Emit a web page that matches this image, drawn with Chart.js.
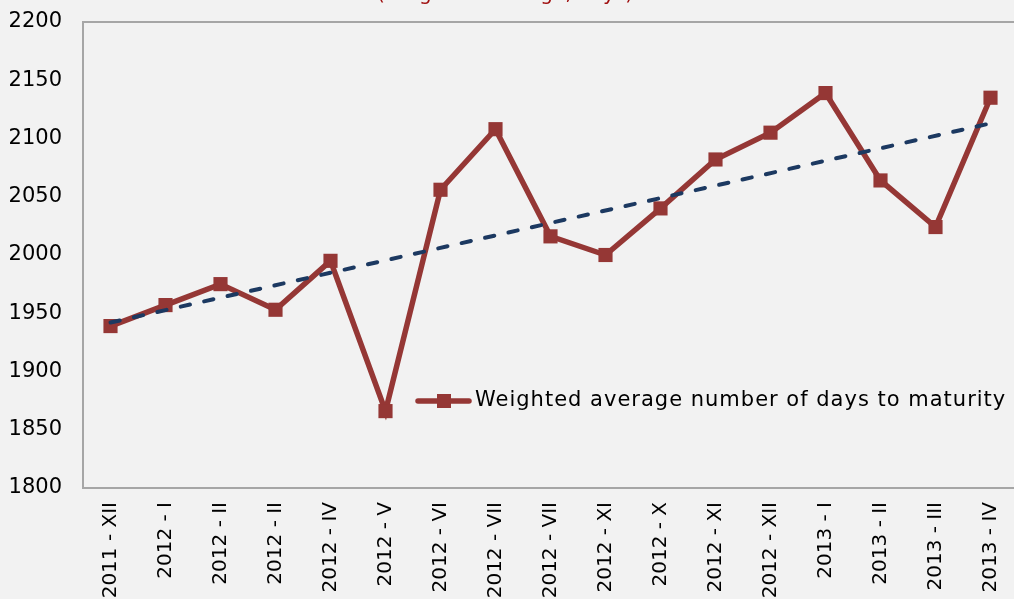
<!DOCTYPE html>
<html>
<head>
<meta charset="utf-8">
<title>Weighted average number of days to maturity</title>
<script src="https://cdn.jsdelivr.net/npm/chart.js@4.4.1/dist/chart.umd.min.js"></script>
<style>
  html, body { margin: 0; padding: 0; background: #f2f2f2; overflow: hidden; }
  #maturityChart { display: block; }
</style>
</head>
<body>
<canvas id="maturityChart" width="1030" height="599"></canvas>
<script>
// monthly periods (labels kept as printed)
const periods = [
    "2011 - XII", "2012 - I", "2012 - II", "2012 - II", "2012 - IV", "2012 - V",
    "2012 - VI", "2012 - VII", "2012 - VII", "2012 - XI", "2012 - X", "2012 - XI",
    "2012 - XII", "2013 - I", "2013 - II", "2013 - III", "2013 - IV"
];

// weighted average days to maturity
const daysToMaturity = [
    1939, 1957, 1975, 1953, 1995, 1866,
    2056, 2108, 2016, 2000, 2040, 2082,
    2105, 2139, 2064, 2024, 2135
];

// linear trend, first and last period
const trendEnds = [1942, 2113];

const yMin = 1800;
const yMax = 2200;
const yStep = 50;

const seriesLabel = "Weighted average number of days to maturity";
const subTitle = "(weighted average, days)";

const red = '#953735';
const navy = '#1c3961';
const fontFamily = "'DejaVu Sans', sans-serif";

const trendData = periods.map((p, i) => {
    if (i === 0) return trendEnds[0];
    if (i === periods.length - 1) return trendEnds[1];
    return null;
});

// grey box round the plot area
const framePlugin = {
    id: 'frame',
    beforeDatasetsDraw(chart) {
        const { ctx, chartArea: a } = chart;
        ctx.save();
        ctx.strokeStyle = '#a6a6a6';
        ctx.lineWidth = 2;
        ctx.strokeRect(a.left, a.top, a.right - a.left, a.bottom - a.top);
        ctx.restore();
    }
};

// legend inside the plot, plus the red subtitle at the top
const extrasPlugin = {
    id: 'extras',
    afterDraw(chart) {
        const ctx = chart.ctx;
        ctx.save();

        // subtitle (sits mostly above the canvas edge)
        ctx.font = `20px ${fontFamily}`;
        ctx.fillStyle = '#a01010';
        ctx.textAlign = 'center';
        ctx.textBaseline = 'alphabetic';
        ctx.fillText(subTitle, 505, 0);

        // legend entry
        const ly = 401;
        ctx.strokeStyle = red;
        ctx.lineWidth = 5.5;
        ctx.lineCap = 'round';
        ctx.beginPath();
        ctx.moveTo(418, ly);
        ctx.lineTo(469, ly);
        ctx.stroke();
        ctx.fillStyle = red;
        ctx.fillRect(437, ly - 7, 14, 14);

        ctx.font = `21px ${fontFamily}`;
        ctx.letterSpacing = '1px';
        ctx.fillStyle = '#000';
        ctx.textAlign = 'left';
        ctx.textBaseline = 'middle';
        ctx.fillText(seriesLabel, 475, ly);
        ctx.restore();
    }
};

const ctx = document.getElementById('maturityChart').getContext('2d');

new Chart(ctx, {
    type: 'line',
    data: {
        labels: periods,
        datasets: [
            {
                label: 'Linear trend',
                data: trendData,
                spanGaps: true,
                borderColor: navy,
                borderWidth: 4,
                borderDash: [9.5, 14.5],
                borderCapStyle: 'round',
                pointRadius: 0,
                pointHoverRadius: 0,
                order: 0
            },
            {
                label: seriesLabel,
                data: daysToMaturity,
                borderColor: red,
                backgroundColor: red,
                borderWidth: 5.5,
                pointStyle: 'rect',
                pointRadius: 10,
                pointBorderWidth: 0,
                pointBackgroundColor: red,
                tension: 0,
                order: 1
            }
        ]
    },
    options: {
        responsive: false,
        animation: false,
        layout: {
            padding: { top: 22, right: 12, left: 0, bottom: 0 }
        },
        plugins: {
            legend: { display: false },
            tooltip: { enabled: false }
        },
        scales: {
            x: {
                offset: true,
                grid: { display: false, drawTicks: false, offset: true },
                border: { display: false },
                ticks: {
                    autoSkip: false,
                    minRotation: 90,
                    maxRotation: 90,
                    padding: 14,
                    color: '#000',
                    font: { family: fontFamily, size: 20 }
                },
                afterFit(scale) { scale.height = 111; }
            },
            y: {
                min: yMin,
                max: yMax,
                grid: { display: false, drawTicks: false },
                border: { display: false },
                ticks: {
                    stepSize: yStep,
                    padding: 21,
                    color: '#000',
                    font: { family: fontFamily, size: 21 },
                    callback: (v) => String(v)
                },
                afterFit(scale) {
                    scale.width = 83;
                    // the outer tick labels may overhang; layout padding handles the gap
                    scale.paddingTop = 0;
                    scale.paddingBottom = 0;
                }
            }
        }
    },
    plugins: [framePlugin, extrasPlugin]
});
</script>
</body>
</html>
